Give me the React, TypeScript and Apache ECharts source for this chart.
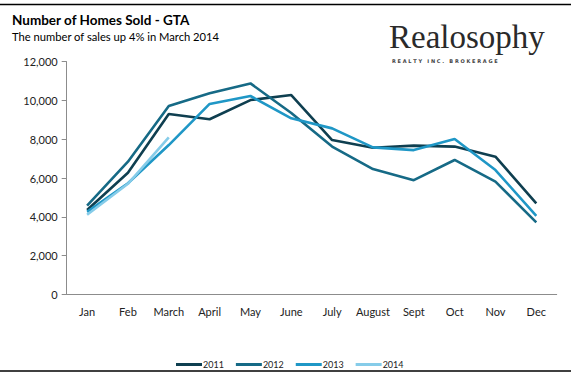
import React, { useEffect, useRef } from "react";
import * as echarts from "echarts";

const months = ["Jan", "Feb", "March", "April", "May", "June", "July", "August", "Sept", "Oct", "Nov", "Dec"];
const s2011 = [4350, 6270, 9300, 9030, 10020, 10280, 7960, 7560, 7670, 7620, 7100, 4690];
const s2012 = [4570, 6840, 9710, 10370, 10880, 9350, 7620, 6460, 5890, 6930, 5810, 3710];
const s2013 = [4250, 5730, 7700, 9820, 10230, 9080, 8560, 7580, 7440, 8010, 6410, 4050];
const s2014 = [4100, 5700, 8100];
const yTicks = [0, 2000, 4000, 6000, 8000, 10000, 12000];

const colors = ["#0f3f50", "#166a86", "#1f97c6", "#86cce9"];
const FONT = "Lato, 'Open Sans', sans-serif";

export default function App() {
  const ref = useRef<HTMLDivElement>(null);
  useEffect(() => {
    if (!ref.current) return;
    const chart = echarts.init(ref.current, null, { renderer: "svg" });
    const mk = (name: string, data: number[], color: string) => ({
      name,
      type: "line",
      data,
      symbol: "none",
      lineStyle: { width: 2.6, color },
      itemStyle: { color },
    });
    chart.setOption({
      animation: false,
      backgroundColor: "#ffffff",
      grid: { left: 66.7, right: 14.3, top: 61.7, bottom: 82.7 },
      xAxis: {
        type: "category",
        data: months,
        boundaryGap: true,
        axisLine: { lineStyle: { color: "#8c8c8c", width: 1 } },
        axisTick: { show: false },
        axisLabel: { color: "#222", fontSize: 11, fontFamily: FONT, margin: 12, interval: 0, hideOverlap: false },
      },
      yAxis: {
        type: "value",
        min: yTicks[0],
        max: yTicks[yTicks.length - 1],
        interval: 2000,
        axisLine: { show: true, lineStyle: { color: "#8c8c8c", width: 1 } },
        axisTick: { show: true, length: 5, lineStyle: { color: "#8c8c8c" } },
        splitLine: { show: false },
        axisLabel: {
          color: "#222",
          fontSize: 11,
          fontFamily: FONT,
          margin: 9,
          formatter: (v: number) => v.toLocaleString("en-US"),
        },
      },
      legend: {
        left: 171,
        top: 355,
        itemWidth: 26,
        itemHeight: 3,
        itemGap: 12,
        icon: "rect",
        textStyle: { fontSize: 9, color: "#222", fontFamily: FONT, padding: [0, 0, 0, -4] },
        data: ["2011", "2012", "2013", "2014"],
      },
      series: [
        mk("2011", s2011, colors[0]),
        mk("2012", s2012, colors[1]),
        mk("2013", s2013, colors[2]),
        mk("2014", s2014, colors[3]),
      ],
      graphic: [
        { type: "line", shape: { x1: 0, y1: 4.5, x2: 571, y2: 4.5 }, style: { stroke: "#000", lineWidth: 1.5 } },
        { type: "line", shape: { x1: 0, y1: 371, x2: 571, y2: 371 }, style: { stroke: "#000", lineWidth: 1.5 } },
        {
          type: "text",
          left: 12,
          top: 13,
          style: { text: "Number of Homes Sold - GTA", font: `bold 13.5px ${FONT}`, fill: "#000" },
        },
        {
          type: "text",
          left: 12,
          top: 31,
          style: { text: "The number of sales up 4% in March 2014", font: `11.2px ${FONT}`, fill: "#000" },
        },
        {
          type: "text",
          left: 389,
          top: 20,
          style: { text: "Realosophy", font: "33px 'Liberation Serif', serif", fill: "#2a2a2a" },
        },
        {
          type: "text",
          left: 392,
          top: 58,
          style: { text: "R E A L T Y   I N C .   B R O K E R A G E", font: "bold 5px 'DejaVu Sans', sans-serif", fill: "#444" },
        },
      ],
    });
    return () => chart.dispose();
  }, []);
  return <div ref={ref} style={{ width: 571, height: 377, position: "absolute", left: 0, top: 0 }} />;
}
